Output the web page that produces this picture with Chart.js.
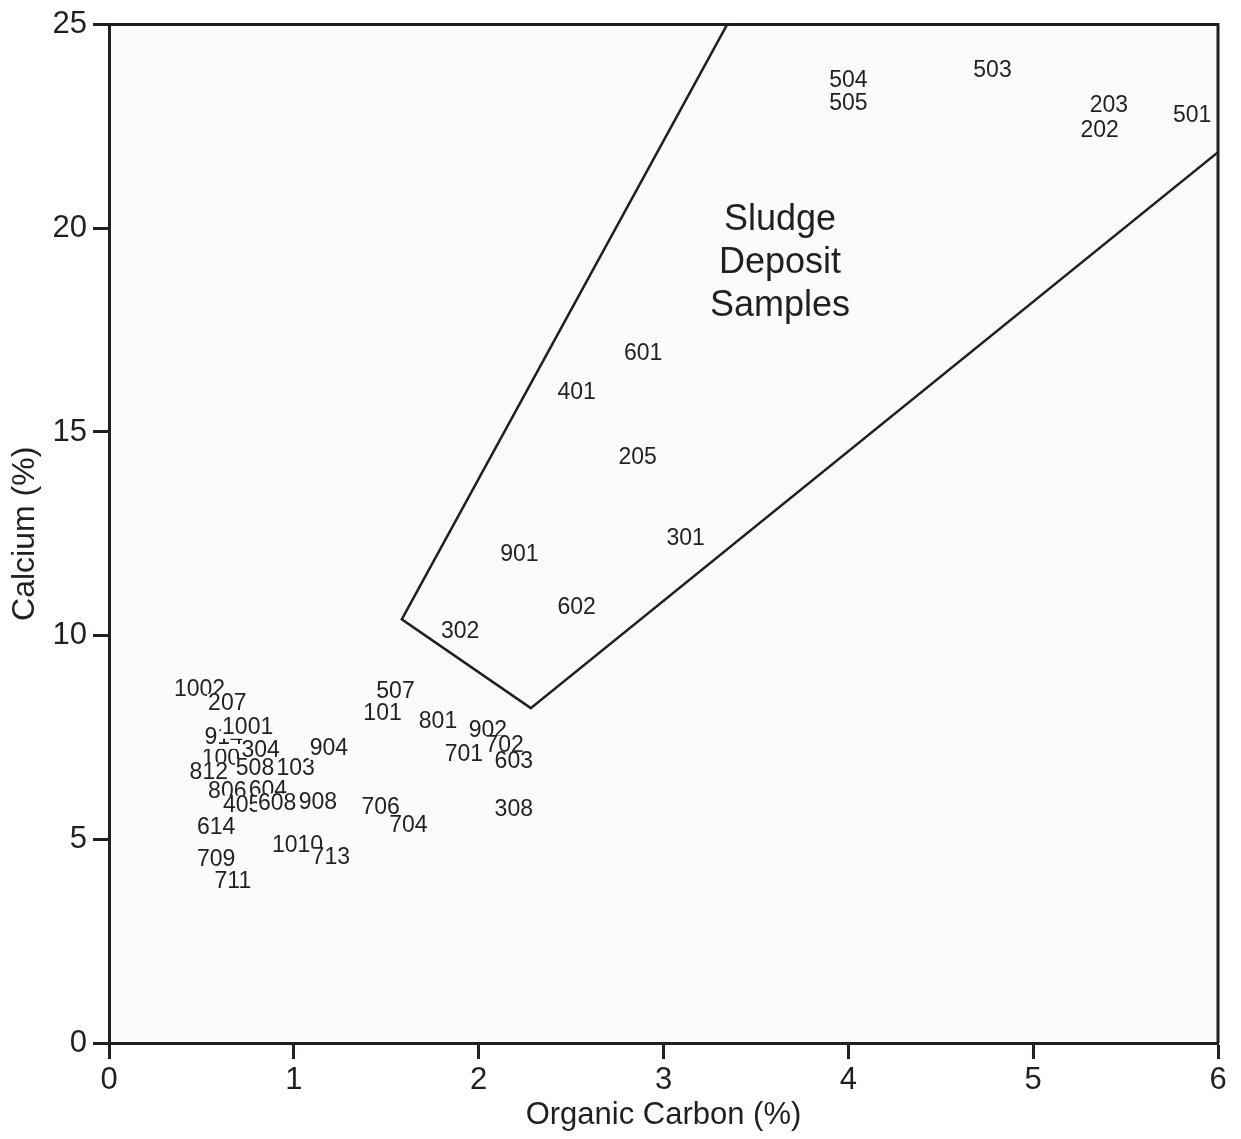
<!DOCTYPE html>
<html>
<head>
<meta charset="utf-8">
<script src="https://cdn.jsdelivr.net/npm/chart.js@4"></script>
<style>
  html, body { margin: 0; padding: 0; background: #ffffff; }
  #wrap { width: 1241px; height: 1139px; }
</style>
</head>
<body>
<div id="wrap"><canvas id="myChart" width="1241" height="1139"></canvas></div>
<script>
/*--------------------------------------------------------------------------------
----- SAMPLE DATA (organic carbon vs calcium)
--------------------------------------------------------------------------------*/

// order matters: later labels sit on top of earlier ones
const sampleIds = ['1003', '914', '1001', '304', '812', '508', '103', '1002', '207',
  '806', '604', '405', '608', '908', '614', '1010', '713', '709', '711', '904',
  '507', '101', '801', '902', '702', '701', '603', '308', '706', '704',
  '302', '602', '901', '301', '205', '401', '601',
  '504', '505', '503', '203', '202', '501'];

const organicCarbon = [0.64, 0.62, 0.75, 0.82, 0.54, 0.79, 1.01, 0.49, 0.64,
  0.64, 0.86, 0.72, 0.91, 1.13, 0.58, 1.02, 1.20, 0.58, 0.67, 1.19,
  1.55, 1.48, 1.78, 2.05, 2.14, 1.92, 2.19, 2.19, 1.47, 1.62,
  1.90, 2.53, 2.22, 3.12, 2.86, 2.53, 2.89,
  4.00, 4.00, 4.78, 5.41, 5.36, 5.86];

const calcium = [6.98, 7.49, 7.74, 7.17, 6.64, 6.73, 6.73, 8.67, 8.33,
  6.17, 6.19, 5.83, 5.88, 5.90, 5.29, 4.85, 4.55, 4.51, 3.97, 7.22,
  8.62, 8.08, 7.88, 7.66, 7.30, 7.08, 6.90, 5.73, 5.78, 5.34,
  10.09, 10.68, 12.00, 12.39, 14.37, 15.96, 16.92,
  23.63, 23.07, 23.87, 23.02, 22.40, 22.77];

// outline of the sludge deposit field
const fieldX = [3.344, 1.584, 2.282, 6.0];
const fieldY = [25.0, 10.40, 8.22, 21.87];

const fieldLabel = ['Sludge', 'Deposit', 'Samples'];
const fieldLabelPos = { x: 3.63, y: 19.15 };

const xTicks = [0, 1, 2, 3, 4, 5, 6];
const yTicks = [0, 5, 10, 15, 20, 25];

const FONT = '"Liberation Sans", Arial, Helvetica, sans-serif';
const INK = '#231f20';
const PLOT_BG = '#fbfbfb';

const points = organicCarbon.map((v, i) => ({ x: v, y: calcium[i] }));
const field = fieldX.map((v, i) => ({ x: v, y: fieldY[i] }));


//
const frame = {
  id: 'frame',
  beforeDraw(chart) {
    const a = chart.chartArea, c = chart.ctx;
    c.save();
    c.fillStyle = PLOT_BG;
    c.fillRect(a.left, a.top, a.right - a.left, a.bottom - a.top);
    c.restore();
  },
  afterDraw(chart) {
    const a = chart.chartArea, c = chart.ctx;
    c.save();
    c.strokeStyle = INK;
    c.lineWidth = 3;
    c.beginPath();
    c.moveTo(a.left, a.top);
    c.lineTo(a.right, a.top);
    c.lineTo(a.right, a.bottom);
    c.stroke();
    c.restore();
  }
};

const sampleLabels = {
  id: 'sampleLabels',
  afterDatasetsDraw(chart) {
    const c = chart.ctx;
    const meta = chart.getDatasetMeta(0);
    c.save();
    c.font = '23px ' + FONT;
    c.textAlign = 'center';
    c.textBaseline = 'middle';
    meta.data.forEach((el, i) => {
      const t = sampleIds[i];
      const w = c.measureText(t).width;
      c.fillStyle = PLOT_BG;
      c.fillRect(el.x - w / 2 - 1, el.y - 10, w + 2, 21);
      c.fillStyle = INK;
      c.fillText(t, el.x, el.y);
    });
    // field label
    const sx = chart.scales.x.getPixelForValue(fieldLabelPos.x);
    const sy = chart.scales.y.getPixelForValue(fieldLabelPos.y);
    c.font = '36px ' + FONT;
    fieldLabel.forEach((t, k) => {
      c.fillText(t, sx, sy + (k - 1) * 43);
    });
    c.restore();
  }
};


const ctx = document.getElementById('myChart');

new Chart(ctx, {
  type: 'scatter',
  data: {
    datasets: [{
      label: 'Samples',
      data: points,
      pointRadius: 0,
      pointHoverRadius: 0,
      showLine: false
    }, {
      label: 'Sludge deposit field',
      data: field,
      showLine: true,
      borderColor: INK,
      borderWidth: 2.5,
      pointRadius: 0,
      fill: false,
      tension: 0
    }]
  },
  options: {
    responsive: false,
    animation: false,
    events: [],
    layout: { padding: { top: 22, right: 23, left: 0, bottom: 0 } },
    plugins: {
      legend: { display: false },
      tooltip: { enabled: false }
    },
    scales: {
      x: {
        type: 'linear',
        min: 0,
        max: 6,
        afterFit(s) { s.height = 96; },
        afterBuildTicks(s) { s.ticks = xTicks.map(v => ({ value: v })); },
        border: { display: true, color: INK, width: 3 },
        grid: { drawOnChartArea: false, drawTicks: true, tickLength: 16, tickColor: INK, tickWidth: 3 },
        ticks: { color: INK, font: { family: FONT, size: 31 }, padding: 3, maxRotation: 0 },
        title: {
          display: true,
          text: 'Organic Carbon (%)',
          color: INK,
          font: { family: FONT, size: 31 },
          padding: { top: 0, bottom: 5 }
        }
      },
      y: {
        type: 'linear',
        min: 0,
        max: 25,
        afterFit(s) { s.width = 109; },
        afterBuildTicks(s) { s.ticks = yTicks.map(v => ({ value: v })); },
        border: { display: true, color: INK, width: 3 },
        grid: { drawOnChartArea: false, drawTicks: true, tickLength: 16, tickColor: INK, tickWidth: 3 },
        ticks: { color: INK, font: { family: FONT, size: 31 }, padding: 6 },
        title: {
          display: true,
          text: 'Calcium (%)',
          color: INK,
          font: { family: FONT, size: 32 },
          padding: { top: 6, bottom: 0 }
        }
      }
    }
  },
  plugins: [frame, sampleLabels]
});
</script>
</body>
</html>
